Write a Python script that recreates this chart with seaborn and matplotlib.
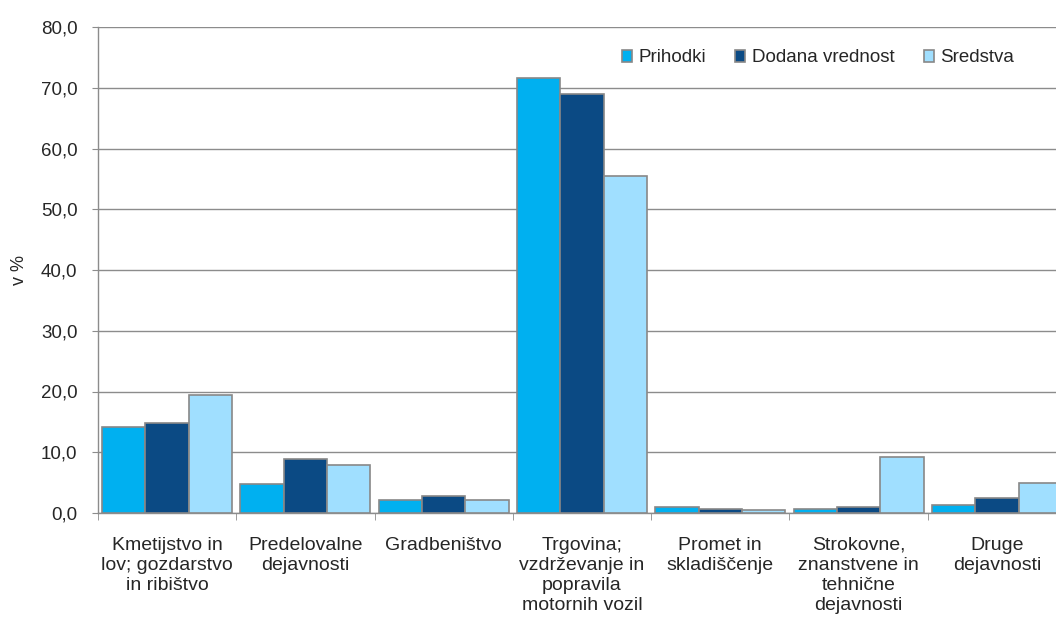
import matplotlib
matplotlib.use("Agg")
import matplotlib.pyplot as plt
import numpy as np
import pandas as pd
import seaborn as sns
from matplotlib.ticker import FuncFormatter, FixedLocator

# Data (v %)
categories = [
    "Kmetijstvo in\nlov; gozdarstvo\nin ribištvo",
    "Predelovalne\ndejavnosti",
    "Gradbeništvo",
    "Trgovina;\nvzdrževanje in\npopravila\nmotornih vozil",
    "Promet in\nskladiščenje",
    "Strokovne,\nznanstvene in\ntehnične\ndejavnosti",
    "Druge\ndejavnosti",
]
series = ["Prihodki", "Dodana vrednost", "Sredstva"]
prihodki = [14.2, 4.7, 2.1, 71.6, 0.95, 0.7, 1.3]
dodana = [14.8, 8.9, 2.85, 69.0, 0.65, 0.95, 2.5]
sredstva = [19.5, 7.9, 2.1, 55.5, 0.45, 9.2, 4.9]
colors = ["#00B0F0", "#0B4A84", "#A0DFFF"]
yticks = list(range(0, 81, 10))

df = pd.DataFrame({
    "cat": categories * 3,
    "serija": [s for s in series for _ in categories],
    "val": prihodki + dodana + sredstva,
})

sns.set_style("white")
plt.rcParams["font.family"] = ["Liberation Sans", "DejaVu Sans"]

fig = plt.figure(figsize=(10.56, 6.19), dpi=100)
ax = fig.add_axes([98 / 1056, 1 - 513 / 619, 968 / 1056, 486 / 619])

sns.barplot(data=df, x="cat", y="val", hue="serija", palette=colors,
            saturation=1, width=0.94, edgecolor="#888888", linewidth=1.2,
            ax=ax, legend=True, zorder=3)

ax.set_xlim(-0.5, len(categories) - 0.5)
ax.set_ylim(0, 80)
ax.set_yticks(yticks)
ax.yaxis.set_major_formatter(FuncFormatter(lambda v, p: f"{v:.1f}".replace(".", ",")))
ax.grid(axis="y", color="#8c8c8c", linewidth=1.0, zorder=0)
ax.set_axisbelow(True)

for s in ["top", "right"]:
    ax.spines[s].set_visible(False)
for s in ["left", "bottom"]:
    ax.spines[s].set_color("#8c8c8c")
    ax.spines[s].set_linewidth(1.0)

ax.set_xlabel("")
ax.set_ylabel("v %", fontsize=13, labelpad=9)
ax.tick_params(axis="y", length=4.3, color="#8c8c8c", labelsize=13.5, pad=10.5, left=True)
ax.tick_params(axis="x", which="major", length=0, pad=17)
ax.xaxis.set_minor_locator(FixedLocator(np.arange(-0.5, len(categories), 1.0)))
ax.tick_params(axis="x", which="minor", length=5, color="#8c8c8c", bottom=True)
for lbl in ax.get_xticklabels():
    lbl.set_fontsize(14)
    lbl.set_linespacing(1.25)
    lbl.set_horizontalalignment("center")
    lbl.set_verticalalignment("top")

ax.legend(loc="center left", bbox_to_anchor=(614 / 1056, 1 - 58 / 619),
          bbox_transform=fig.transFigure, ncol=3, frameon=False,
          fontsize=13.5, handlelength=0.55, handleheight=0.55,
          handletextpad=0.35, columnspacing=1.55, borderaxespad=0)

plt.savefig("out.png", dpi=100)
